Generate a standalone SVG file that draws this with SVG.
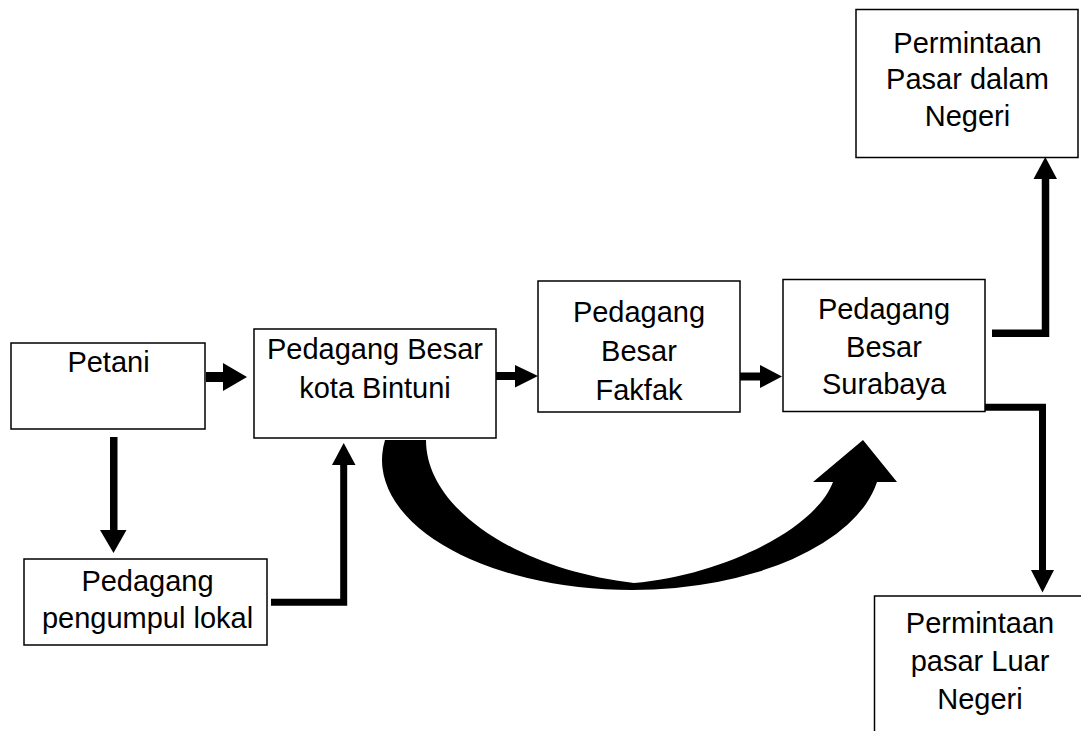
<svg xmlns="http://www.w3.org/2000/svg" width="1081" height="731" viewBox="0 0 1081 731">
  <style>
    .box { fill: #ffffff; stroke: #000000; stroke-width: 1.5; }
    .lbl { font-family: "Liberation Sans", Arial, sans-serif; font-size: 29px; fill: #000000; text-anchor: middle; }
    .shaft { fill: none; stroke: #000000; stroke-linejoin: miter; stroke-linecap: butt; }
    .solid { fill: #000000; stroke: none; }
  </style>
  <rect x="0" y="0" width="1081" height="731" fill="#ffffff"/>

  <!-- connectors -->
  <g id="connectors">
    <!-- Petani -> Pedagang Besar kota Bintuni -->
    <rect class="solid" x="206" y="372" width="18" height="10"/>
    <polygon class="solid" points="223,363 247,377 223,391"/>
    <!-- Petani -> Pedagang pengumpul lokal -->
    <rect class="solid" x="110" y="437" width="7.5" height="94"/>
    <polygon class="solid" points="100,530 126.5,530 113.5,553"/>
    <!-- Pedagang pengumpul lokal -> Pedagang Besar kota Bintuni -->
    <path class="shaft" stroke-width="7" d="M271,602.3 H343.7 V464"/>
    <polygon class="solid" points="332,465 355.5,465 343.7,443"/>
    <!-- Bintuni -> Fakfak -->
    <rect class="solid" x="496" y="372" width="20" height="8"/>
    <polygon class="solid" points="515,365 538,376 515,387.5"/>
    <!-- Fakfak -> Surabaya -->
    <rect class="solid" x="740" y="372.5" width="21" height="8"/>
    <polygon class="solid" points="760,365 782,376.5 760,388"/>
    <!-- Surabaya -> Permintaan Pasar dalam Negeri -->
    <path class="shaft" stroke-width="7.5" d="M992,333.3 H1045.5 V178"/>
    <polygon class="solid" points="1033.5,179 1057,179 1045.3,157"/>
    <!-- Surabaya -> Permintaan pasar Luar Negeri -->
    <path class="shaft" stroke-width="7" d="M985,407.3 H1042.5 V571"/>
    <polygon class="solid" points="1031,570 1054,570 1042.5,592.5"/>
    <!-- curved arrow: Bintuni -> Surabaya -->
    <path class="solid" d="M385,440
      A250,130 0 0 0 632,590
      A250,130 0 0 0 877,482
      L897,482 L863,440 L813,482 L833,482
      C815,530 720,576 634,583
      C520,570 426,510 426,440 Z"/>
  </g>

  <!-- nodes -->
  <g id="petani">
    <rect class="box" x="11" y="343" width="194" height="86"/>
    <text class="lbl" x="108.5" y="372">Petani</text>
  </g>

  <g id="pedagang-pengumpul-lokal">
    <rect class="box" x="24" y="559" width="243" height="86"/>
    <text class="lbl" x="147.5" y="591">Pedagang</text>
    <text class="lbl" x="147.5" y="628">pengumpul lokal</text>
  </g>

  <g id="pedagang-besar-bintuni">
    <rect class="box" x="254" y="329" width="242" height="109"/>
    <text class="lbl" x="375" y="359">Pedagang Besar</text>
    <text class="lbl" x="375" y="397.5">kota Bintuni</text>
  </g>

  <g id="pedagang-besar-fakfak">
    <rect class="box" x="538" y="281" width="202" height="131"/>
    <text class="lbl" x="639" y="322">Pedagang</text>
    <text class="lbl" x="639" y="361">Besar</text>
    <text class="lbl" x="639" y="400">Fakfak</text>
  </g>

  <g id="pedagang-besar-surabaya">
    <rect class="box" x="783" y="279.5" width="202" height="132"/>
    <text class="lbl" x="884" y="319">Pedagang</text>
    <text class="lbl" x="884" y="357">Besar</text>
    <text class="lbl" x="884" y="394">Surabaya</text>
  </g>

  <g id="permintaan-dalam-negeri">
    <rect class="box" x="856" y="9.5" width="222" height="148"/>
    <text class="lbl" x="967.5" y="52.5">Permintaan</text>
    <text class="lbl" x="967.5" y="89">Pasar dalam</text>
    <text class="lbl" x="967.5" y="126">Negeri</text>
  </g>

  <g id="permintaan-luar-negeri">
    <rect class="box" x="874.5" y="596" width="212" height="150"/>
    <text class="lbl" x="980" y="632.5">Permintaan</text>
    <text class="lbl" x="980" y="670.5">pasar Luar</text>
    <text class="lbl" x="980" y="709">Negeri</text>
  </g>
</svg>
